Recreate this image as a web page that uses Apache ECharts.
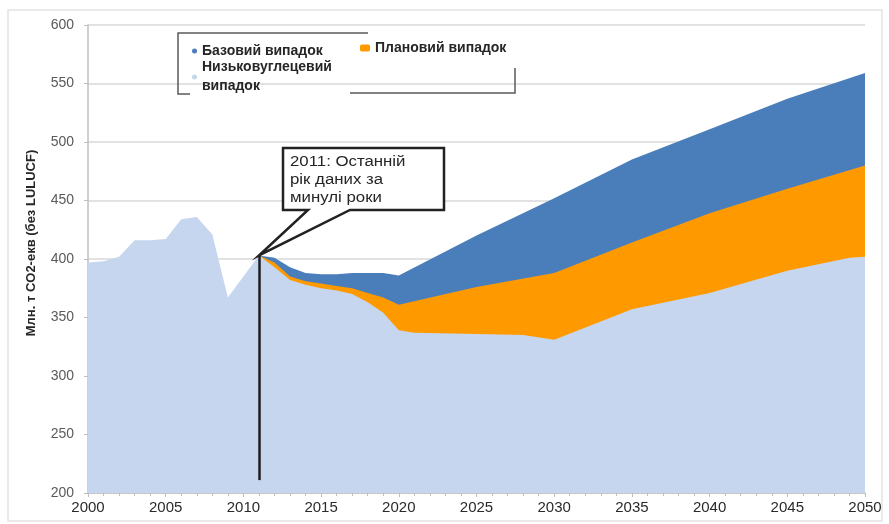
<!DOCTYPE html>
<html>
<head>
<meta charset="utf-8">
<script src="https://cdn.jsdelivr.net/npm/echarts@6/dist/echarts.min.js"></script>
<style>
  html, body { margin: 0; padding: 0; background: #fff; }
  #chart { width: 889px; height: 524px; }
</style>
</head>
<body>
<div id="chart"></div>
<script>
// [year, Mt CO2-eq]
const baseCase = [
  [2011, 403], [2012, 401], [2013, 393], [2014, 388], [2015, 387], [2016, 387],
  [2017, 388], [2018, 388], [2019, 388], [2020, 386], [2025, 420], [2030, 452],
  [2035, 485], [2040, 511], [2045, 537], [2050, 559]
]
const plannedCase = [
  [2011, 403], [2012, 397], [2013, 385], [2014, 381], [2015, 379], [2016, 377],
  [2017, 375], [2018, 371], [2019, 367], [2020, 361], [2025, 376], [2030, 388],
  [2035, 414], [2040, 439], [2045, 460], [2050, 480]
]
// history 2000-2011 + low carbon case
const lowCarbonCase = [
  [2000, 397], [2001, 398], [2002, 402], [2003, 416], [2004, 416], [2005, 417],
  [2006, 434], [2007, 436], [2008, 421], [2009, 367], [2010, 385], [2011, 403],
  [2012, 393], [2013, 382], [2014, 378], [2015, 375], [2016, 373], [2017, 370],
  [2018, 363], [2019, 354], [2020, 339], [2021, 337], [2025, 336], [2028, 335],
  [2030, 331], [2035, 357], [2040, 371], [2045, 390], [2049, 401], [2050, 402]
]
const names = ['Базовий випадок', 'Плановий випадок', 'Низьковуглецевий випадок']
const colors = ['#4a7ebb', '#fe9a00', '#c6d6ee']
const lastYear = [2011, 403]
const lineBottom = 211

const chart = echarts.init(document.getElementById('chart'))

function areaSeries(name, data, color) {
  return {
    name: name,
    type: 'line',
    data: data,
    symbol: 'none',
    lineStyle: { width: 0 },
    areaStyle: { color: color, opacity: 1, origin: 'start' },
    itemStyle: { color: color },
    emphasis: { disabled: true },
    animation: false
  }
}

const legendText = { color: '#262626', fontSize: 14, fontWeight: 'bold', fontFamily: 'Liberation Sans' }

chart.setOption({
  animation: false,
  grid: { left: 88, right: 24, top: 25, bottom: 31 },
  legend: [
    {
      left: 187, top: 39, data: [names[0]], icon: 'circle', itemWidth: 5, itemHeight: 5,
      textStyle: legendText, selectedMode: false
    },
    {
      left: 355, top: 36, data: [names[1]], icon: 'roundRect', itemWidth: 10, itemHeight: 7,
      textStyle: legendText, selectedMode: false
    },
    {
      left: 187, top: 53, data: [names[2]], icon: 'circle', itemWidth: 5, itemHeight: 5,
      textStyle: Object.assign({ lineHeight: 19 }, legendText), selectedMode: false,
      formatter: function () { return 'Низьковуглецевий\nвипадок' }
    }
  ],
  xAxis: {
    type: 'value',
    min: 2000,
    max: 2050,
    interval: 5,
    axisLine: { lineStyle: { color: '#bfbfbf', width: 1.5 } },
    axisTick: { show: true, length: 4, lineStyle: { color: '#bfbfbf' } },
    minorTick: { show: true, splitNumber: 5, length: 3, lineStyle: { color: '#bfbfbf' } },
    splitLine: { show: false },
    axisLabel: {
      formatter: function (v) { return String(v) },
      color: '#2a2a2a', fontSize: 15, fontFamily: 'Liberation Sans', margin: 7
    }
  },
  yAxis: {
    type: 'value',
    min: 200,
    max: 600,
    interval: 50,
    name: 'Млн. т CO2-екв (без LULUCF)',
    nameLocation: 'middle',
    nameGap: 50,
    nameTextStyle: {
      color: '#262626', fontSize: 13, fontWeight: 'bold', fontFamily: 'Liberation Sans',
      padding: [0, 0, 0, 32]
    },
    axisLine: { show: true, lineStyle: { color: '#bfbfbf', width: 1.5 } },
    axisTick: { show: true, length: 4, lineStyle: { color: '#bfbfbf' } },
    splitLine: { lineStyle: { color: '#d9d9d9', width: 1.5 } },
    axisLabel: { color: '#5a5a5a', fontSize: 14, fontFamily: 'Liberation Sans', margin: 14 }
  },
  series: [
    areaSeries(names[0], baseCase, colors[0]),
    areaSeries(names[1], plannedCase, colors[1]),
    Object.assign(areaSeries(names[2], lowCarbonCase, colors[2]), {
      markLine: {
        silent: true,
        symbol: 'none',
        label: { show: false },
        lineStyle: { color: '#1f1f1f', width: 2.5, type: 'solid' },
        data: [[{ coord: [lastYear[0], lineBottom] }, { coord: lastYear }]]
      }
    })
  ]
})

// callout box pointing at the last historical year
const tip = chart.convertToPixel({ xAxisIndex: 0, yAxisIndex: 0 }, lastYear)
chart.setOption({
  graphic: [
    {
      type: 'rect',
      shape: { x: 8, y: 10, width: 874, height: 511 },
      style: { fill: 'none', stroke: '#e3e3e3', lineWidth: 1.5 },
      silent: true
    },
    {
      type: 'polyline',
      shape: { points: [[190, 94], [178, 94], [178, 33], [368, 33]] },
      style: { stroke: '#595959', lineWidth: 1.5, fill: 'none' },
      silent: true
    },
    {
      type: 'polyline',
      shape: { points: [[350, 93], [515, 93], [515, 68]] },
      style: { stroke: '#595959', lineWidth: 1.5, fill: 'none' },
      silent: true
    },
    {
      type: 'polygon',
      shape: {
        points: [[283, 148], [444, 148], [444, 210], [350, 210], tip, [308, 210], [283, 210]]
      },
      style: { fill: '#fff', stroke: '#222', lineWidth: 2.5, lineJoin: 'miter' },
      z: 100,
      silent: true
    },
    {
      type: 'text',
      x: 290,
      y: 153,
      scaleX: 1.2,
      style: {
        text: '2011: Останній\nрік даних за\nминулі роки',
        fill: '#262626',
        font: '14px "Liberation Sans"',
        lineHeight: 18,
        verticalAlign: 'top'
      },
      z: 101,
      silent: true
    }
  ]
})
</script>
</body>
</html>
